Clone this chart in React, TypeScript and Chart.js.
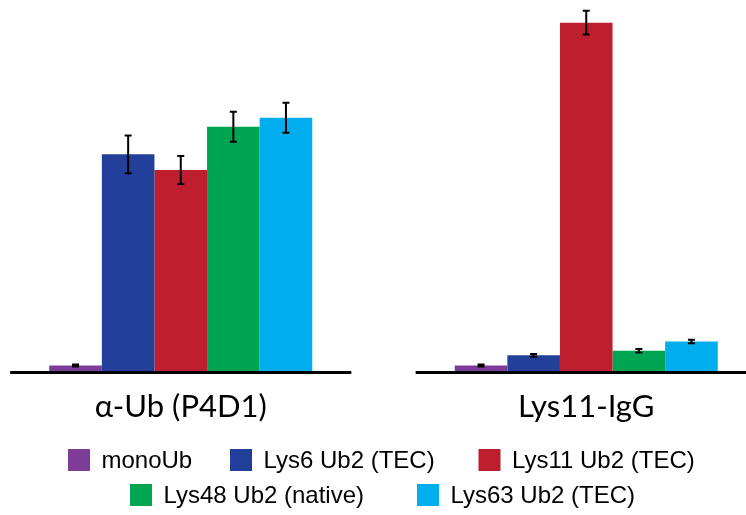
import React, { useEffect, useRef } from "react";
import { Chart, registerables } from "chart.js";

Chart.register(...registerables);

// ---- data ----
const categories = ["α-Ub (P4D1)", "Lys11-IgG"];
const seriesNames = ["monoUb", "Lys6 Ub2 (TEC)", "Lys11 Ub2 (TEC)", "Lys48 Ub2 (native)", "Lys63 Ub2 (TEC)"];
const seriesColors = ["#7D3C98", "#22409A", "#BE1E2D", "#00A551", "#00AEEF"];

const monoUb = [1.6, 1.6];
const lys6 = [62.2, 4.5];
const lys11 = [57.7, 100];
const lys48 = [70.1, 5.8];
const lys63 = [72.7, 8.5];

const monoUbErr = [0.3, 0.3];
const lys6Err = [5.4, 0.4];
const lys11Err = [4.0, 3.4];
const lys48Err = [4.3, 0.5];
const lys63Err = [4.3, 0.5];

const seriesValues = [monoUb, lys6, lys11, lys48, lys63];
const seriesErrors = [monoUbErr, lys6Err, lys11Err, lys48Err, lys63Err];

// legend layout (rows of series indices)
const legendRows = [[0, 1, 2], [3, 4]];

const SHIFT = 22; // canvas offset to the left of the page
const CANVAS_W = 811;
const CANVAS_H = 515;

const errorBarPlugin = {
  id: "errorBars",
  afterDatasetsDraw(chart: any) {
    const ctx = chart.ctx;
    const yScale = chart.scales.y;
    ctx.save();
    ctx.strokeStyle = "#000";
    ctx.lineWidth = 2;
    chart.data.datasets.forEach((ds: any, di: number) => {
      const meta = chart.getDatasetMeta(di);
      meta.data.forEach((bar: any, i: number) => {
        const v = ds.data[i];
        const e = ds.errors[i];
        const yTop = yScale.getPixelForValue(v + e);
        const yBot = yScale.getPixelForValue(v - e);
        const x = bar.x;
        ctx.beginPath();
        ctx.moveTo(x, yTop);
        ctx.lineTo(x, yBot);
        ctx.moveTo(x - 3.5, yTop);
        ctx.lineTo(x + 3.5, yTop);
        ctx.moveTo(x - 3.5, yBot);
        ctx.lineTo(x + 3.5, yBot);
        ctx.stroke();
      });
    });
    ctx.restore();
  },
};

const axisLinePlugin = {
  id: "groupAxisLines",
  afterDatasetsDraw(chart: any) {
    const ctx = chart.ctx;
    const xScale = chart.scales.x;
    const bottom = chart.chartArea.bottom;
    const catW = xScale.width / chart.data.labels.length;
    ctx.save();
    ctx.strokeStyle = "#000";
    ctx.lineWidth = 3;
    chart.data.labels.forEach((_: any, i: number) => {
      const cx = xScale.getPixelForValue(i);
      const half = catW * 0.4207;
      ctx.beginPath();
      ctx.moveTo(cx - half, bottom + 1.5);
      ctx.lineTo(cx + half, bottom + 1.5);
      ctx.stroke();
    });
    ctx.restore();
  },
};

const legendPlugin = {
  id: "customLegend",
  afterDraw(chart: any) {
    const ctx = chart.ctx;
    const rowY = [460, 495];
    const rowX = [[68, 230, 478.5], [130, 417]];
    ctx.save();
    ctx.font = "24px 'Liberation Sans', Arial, sans-serif";
    ctx.textBaseline = "middle";
    ctx.fillStyle = "#000";
    legendRows.forEach((row, r) => {
      row.forEach((si, k) => {
        const ds = chart.data.datasets[si];
        const x = rowX[r][k] + SHIFT;
        const y = rowY[r];
        ctx.fillStyle = ds.backgroundColor;
        ctx.fillRect(x, y - 11, 22, 22);
        ctx.fillStyle = "#000";
        ctx.fillText(ds.label, x + 33.5, y + 1);
      });
    });
    ctx.restore();
  },
};

export default function App() {
  const canvasRef = useRef<HTMLCanvasElement | null>(null);

  useEffect(() => {
    if (!canvasRef.current) return;
    const chart = new Chart(canvasRef.current, {
      type: "bar",
      data: {
        labels: categories,
        datasets: seriesNames.map((name, i) => ({
          label: name,
          data: seriesValues[i],
          errors: seriesErrors[i],
          backgroundColor: seriesColors[i],
          borderWidth: 0,
          categoryPercentage: 0.6486,
          barPercentage: 1,
        })) as any,
      },
      options: {
        responsive: false,
        animation: false,
        devicePixelRatio: 1,
        layout: { padding: { top: 0, left: 0, right: 0, bottom: 72.8 } },
        plugins: {
          legend: { display: false },
          tooltip: { enabled: false },
        },
        scales: {
          x: {
            grid: { display: false, drawTicks: false },
            border: { display: false },
            ticks: {
              color: "#000",
              padding: 17,
              font: { family: "Lato, 'Open Sans', sans-serif", size: 31 },
            },
          },
          y: {
            display: false,
            min: 0,
            max: 106.5,
          },
        },
      },
      plugins: [errorBarPlugin, axisLinePlugin, legendPlugin],
    });
    return () => chart.destroy();
  }, []);

  return (
    <div
      style={{
        position: "absolute",
        left: 0,
        top: 0,
        width: 746,
        height: 515,
        overflow: "hidden",
        background: "#fff",
      }}
    >
      <canvas
        ref={canvasRef}
        width={CANVAS_W}
        height={CANVAS_H}
        style={{ position: "absolute", left: -SHIFT, top: 0, width: CANVAS_W, height: CANVAS_H }}
      />
    </div>
  );
}
